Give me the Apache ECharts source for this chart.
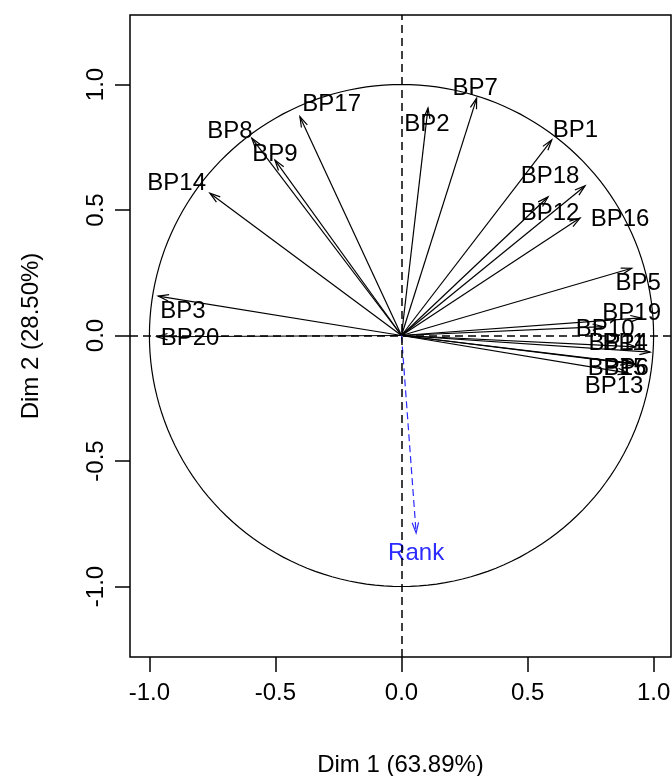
<!DOCTYPE html>
<html><head><meta charset="utf-8">
<script src="https://cdn.jsdelivr.net/npm/echarts@6/dist/echarts.min.js"></script>
<style>html,body{margin:0;padding:0;background:#fff}#c{width:672px;height:776px}</style>
</head><body><div id="c"></div>
<script>
// ---- data ----
const varNames  = ['BP1','BP2','BP3','BP4','BP5','BP6','BP7','BP8','BP9','BP10','BP11','BP12','BP13','BP14','BP15','BP16','BP17','BP18','BP19','BP20'];
const dim1      = [0.596, 0.105, -0.965, 0.986, 0.913, 0.91, 0.298, -0.594, -0.502, 0.80, 0.93, 0.581, 0.90, -0.760, 0.93, 0.708, -0.403, 0.728, 0.95, -0.97];
const dim2      = [0.779, 0.906, 0.157, -0.066, 0.268, -0.11, 0.945, 0.786, 0.699, 0.035, -0.045, 0.552, -0.15, 0.567, -0.115, 0.468, 0.872, 0.596, 0.07, -0.005];
const labelDim1 = [0.690, 0.101, -0.867, 0.887, 0.939, 0.891, 0.292, -0.681, -0.502, 0.808, 0.855, 0.589, 0.843, -0.892, 0.855, 0.867, -0.277, 0.589, 0.913, -0.839];
const labelDim2 = [0.823, 0.847, 0.102, -0.025, 0.214, -0.124, 0.991, 0.819, 0.726, 0.029, -0.025, 0.493, -0.197, 0.613, -0.124, 0.468, 0.927, 0.639, 0.095, -0.006];
const suppNames = ['Rank'];
const suppDim1  = [0.058];
const suppDim2  = [-0.787];
const suppLabelDim1 = [0.058];
const suppLabelDim2 = [-0.861];
const tickValues = [-1, -0.5, 0, 0.5, 1];
const tickLabels = ['-1.0', '-0.5', '0.0', '0.5', '1.0'];
const xTitle = 'Dim 1 (63.89%)';
const yTitle = 'Dim 2 (28.50%)';

const FONT = '"Liberation Sans", Arial, sans-serif';
const chart = echarts.init(document.getElementById('c'), null, {renderer: 'canvas'});

function makeRender(names, color, dashed) {
  return function (params, api) {
    const o = api.coord([0, 0]);
    const t = api.coord([api.value(0), api.value(1)]);
    const l = api.coord([api.value(2), api.value(3)]);
    const ang = Math.atan2(t[1] - o[1], t[0] - o[0]);
    const len = 11, a = 17 * Math.PI / 180;
    const h1 = [t[0] - len * Math.cos(ang - a), t[1] - len * Math.sin(ang - a)];
    const h2 = [t[0] - len * Math.cos(ang + a), t[1] - len * Math.sin(ang + a)];
    return {
      type: 'group',
      children: [
        {type: 'line', shape: {x1: o[0], y1: o[1], x2: t[0], y2: t[1]},
         style: {stroke: color, lineWidth: 1.2, fill: null, lineDash: dashed ? [7, 4] : null}},
        {type: 'polyline', shape: {points: [h1, t, h2]},
         style: {stroke: color, lineWidth: 1.2, fill: null}},
        {type: 'text', x: l[0], y: l[1] + 1.5,
         style: {text: names[params.dataIndex], fill: color, font: '24px ' + FONT,
                 align: 'center', verticalAlign: 'middle'}}
      ]
    };
  };
}

const axisCommon = {
  type: 'value',
  axisLine: {show: false, onZero: false},
  splitLine: {show: false},
  axisTick: {show: true, inside: false, length: 15, customValues: tickValues,
             lineStyle: {color: '#000', width: 1.5}},
  nameLocation: 'middle',
  nameTextStyle: {fontSize: 24, color: '#000', fontFamily: FONT}
};

chart.setOption({
  animation: false,
  backgroundColor: '#fff',
  grid: {left: 130, right: 1, top: 15, bottom: 119, show: true,
         containLabel: false, outerBoundsMode: 'none',
         borderColor: '#000', borderWidth: 1.5, backgroundColor: 'transparent'},
  xAxis: Object.assign({}, axisCommon, {
    min: -1.077, max: 1.069,
    axisLabel: {customValues: tickValues, formatter: v => tickLabels[tickValues.indexOf(v)],
                fontSize: 24, color: '#000', fontFamily: FONT, margin: 24},
    name: xTitle, nameGap: 96
  }),
  yAxis: Object.assign({}, axisCommon, {
    min: -1.281, max: 1.277,
    axisLabel: {customValues: tickValues, formatter: v => tickLabels[tickValues.indexOf(v)],
                fontSize: 24, color: '#000', fontFamily: FONT, margin: 22, rotate: 90},
    name: yTitle, nameGap: 87, nameRotate: 90
  }),
  series: [
    {
      type: 'line', data: [], silent: true,
      markLine: {silent: true, symbol: 'none', label: {show: false},
                 lineStyle: {color: '#000', type: [8, 5], width: 1.5},
                 data: [{xAxis: 0}, {yAxis: 0}]}
    },
    {
      type: 'custom', silent: true, data: [[0, 0]],
      renderItem: function (params, api) {
        const pts = [];
        for (let k = 0; k <= 360; k += 2) {
          const r = k * Math.PI / 180;
          pts.push(api.coord([Math.cos(r), Math.sin(r)]));
        }
        return {type: 'polyline', shape: {points: pts},
                style: {stroke: '#000', lineWidth: 1.2, fill: null}};
      }
    },
    {
      type: 'custom', silent: true,
      data: varNames.map((n, i) => [dim1[i], dim2[i], labelDim1[i], labelDim2[i]]),
      renderItem: makeRender(varNames, '#000', false)
    },
    {
      type: 'custom', silent: true,
      data: suppNames.map((n, i) => [suppDim1[i], suppDim2[i], suppLabelDim1[i], suppLabelDim2[i]]),
      renderItem: makeRender(suppNames, '#2b2bff', true)
    }
  ]
});
</script>
</body></html>
